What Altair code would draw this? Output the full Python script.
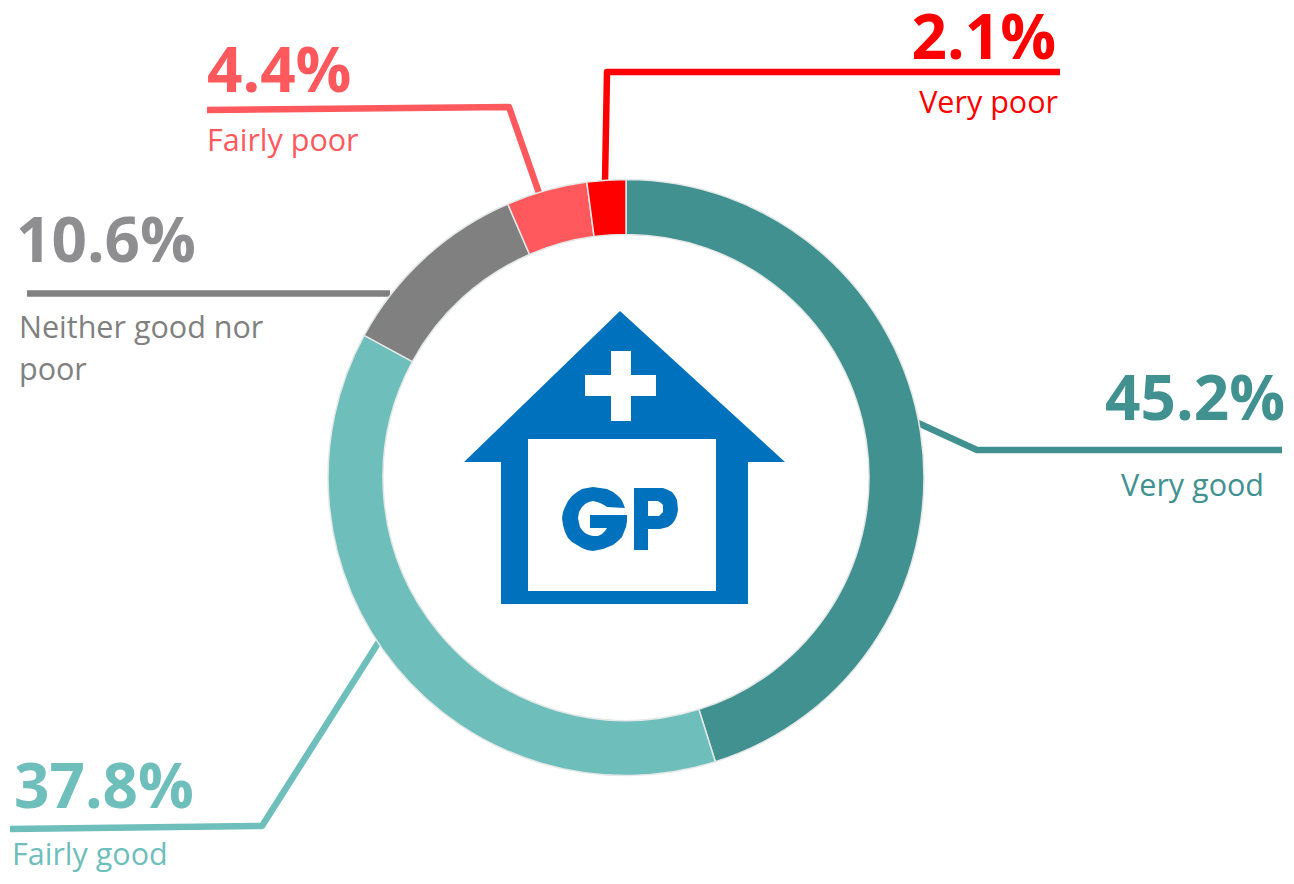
import altair as alt
import pandas as pd

W, H = 1294, 884
M = 8  # page margin
CX, CY = 626, 477.5

categories = ["Very good", "Fairly good", "Neither good nor poor", "Fairly poor", "Very poor"]
shares = [45.2, 37.8, 10.6, 4.4, 2.1]
colours = ["#419190", "#6EBEBC", "#808080", "#FF595E", "#FF0000"]
big_colours = ["#419190", "#6EBEBC", "#8E8E90", "#FF595E", "#FF0000"]
share_labels = ["45.2%", "37.8%", "10.6%", "4.4%", "2.1%"]

# leader lines (page pixels)
leader_x = [[918, 977, 1282], [380, 262, 10], [390, 27], [539, 509, 207], [605, 607, 1060]]
leader_y = [[423, 450, 450], [640, 826, 829], [293.5, 293.5], [193, 107, 110], [182, 72, 72]]

# big percentage labels
pct_x = [1285, 14, 16, 207, 1056]
pct_y = [401, 789, 243, 73, 40]
pct_align = ["right", "left", "left", "left", "right"]

# small labels
cap_text = ["Very good", "Fairly good", "Neither good nor", "poor", "Fairly poor", "Very poor"]
cap_idx = [0, 1, 2, 2, 3, 4]
cap_x = [1264, 12, 19, 19, 207, 1058]
cap_y = [487, 856, 329, 371, 142, 104]
cap_align = ["right", "left", "left", "left", "left", "right"]

# GP house icon (page pixels)
roof_x = [620, 785, 748, 748, 501, 501, 464]
roof_y = [311, 462, 462, 604, 604, 462, 462]
win_x = [528, 716, 716, 528]
win_y = [439, 439, 591, 591]
cross_x = [611, 631, 631, 656, 656, 631, 631, 611, 611, 585, 585, 611]
cross_y = [351, 351, 375, 375, 396, 396, 421, 421, 396, 396, 375, 375]

# GP lettering outline
g_x = [593, 600, 607, 613, 617, 621, 623, 625, 607, 604, 600, 597, 593, 589, 585, 582, 579, 578, 579, 580, 582, 585, 589, 593, 598, 602, 605, 607, 590, 590, 627, 627, 626, 624, 622, 618, 613, 608, 603, 598, 593, 587, 582, 577, 572, 568, 565, 563, 562, 563, 565, 568, 572, 577, 582, 587]
g_y = [487, 488, 489, 492, 495, 499, 503, 508, 507, 505, 503, 502, 501, 502, 504, 507, 512, 518, 523, 527, 530, 533, 535, 536, 536, 534, 531, 528, 528, 515, 515, 521, 527, 532, 537, 541, 545, 547, 549, 550, 551, 550, 548, 545, 542, 538, 532, 525, 518, 512, 507, 501, 496, 492, 489, 488]
p_x = [634, 663, 668, 672, 675, 677, 678, 677, 675, 672, 668, 664, 660, 648, 648, 634]
p_y = [488, 488, 490, 492, 496, 500, 510, 515, 520, 524, 527, 528, 529, 529, 550, 550]
ph_x = [648, 658, 661, 663, 663, 661, 659, 648]
ph_y = [501, 501, 503, 505, 512, 514, 516, 516]

x = alt.X("x:Q", scale=alt.Scale(domain=[M, W - M], range=[0, W - 2 * M]), axis=None)
y = alt.Y("y:Q", scale=alt.Scale(domain=[H - M, M], range=[H - 2 * M, 0]), axis=None)
colour_scale = alt.Scale(domain=categories, range=colours)
big_scale = alt.Scale(domain=categories, range=big_colours)

donut_df = pd.DataFrame({"category": categories, "share": shares, "o": range(5), "x": [CX] * 5, "y": [CY] * 5})
donut = alt.Chart(donut_df).mark_arc(innerRadius=243, outerRadius=298, stroke="#E4E8E6", strokeWidth=1.5).encode(
    theta=alt.Theta("share:Q", stack=True),
    order=alt.Order("o:Q"),
    color=alt.Color("category:N", scale=colour_scale, legend=None),
    x=x, y=y,
)

rows = []
for i, (lx, ly) in enumerate(zip(leader_x, leader_y)):
    for j, (a, b) in enumerate(zip(lx, ly)):
        rows.append({"x": a, "y": b, "j": j, "category": categories[i]})
leaders = alt.Chart(pd.DataFrame(rows)).mark_line(strokeWidth=6.5, strokeJoin="round").encode(
    x=x, y=y, order="j:Q", detail="category:N",
    color=alt.Color("category:N", scale=colour_scale, legend=None),
)


def poly(xs, ys, colour):
    df = pd.DataFrame({"x": xs + xs[:1], "y": ys + ys[:1], "o": range(len(xs) + 1)})
    return alt.Chart(df).mark_line(filled=True, fill=colour, stroke=colour, strokeWidth=0).encode(x=x, y=y, order="o:Q")


def text_layer(xs, ys, texts, cats, aligns, size, weight, scale):
    df = pd.DataFrame({"x": xs, "y": ys, "t": texts, "category": cats, "a": aligns})
    out = []
    for a in ["left", "right"]:
        out.append(alt.Chart(df[df.a == a]).mark_text(
            align=a, baseline="middle", fontSize=size, fontWeight=weight, font="Open Sans"
        ).encode(x=x, y=y, text="t:N", color=alt.Color("category:N", scale=scale, legend=None)))
    return out


big = text_layer(pct_x, pct_y, share_labels, categories, pct_align, 62, "bold", big_scale)
small = text_layer(cap_x, cap_y, cap_text, [categories[i] for i in cap_idx], cap_align, 30.5, "normal", colour_scale)

chart = alt.layer(
    leaders, donut,
    poly(roof_x, roof_y, "#0071BC"), poly(win_x, win_y, "#FFFFFF"), poly(cross_x, cross_y, "#FFFFFF"),
    poly(g_x, g_y, "#0071BC"), poly(p_x, p_y, "#0071BC"), poly(ph_x, ph_y, "#FFFFFF"),
    *big, *small,
).resolve_scale(color="independent").properties(
    width=W - 2 * M, height=H - 2 * M, padding=0, autosize=alt.AutoSizeParams(type="none")
).configure_view(stroke=None)

chart.save("out.html", embed_options={"renderer": "svg", "actions": False})
